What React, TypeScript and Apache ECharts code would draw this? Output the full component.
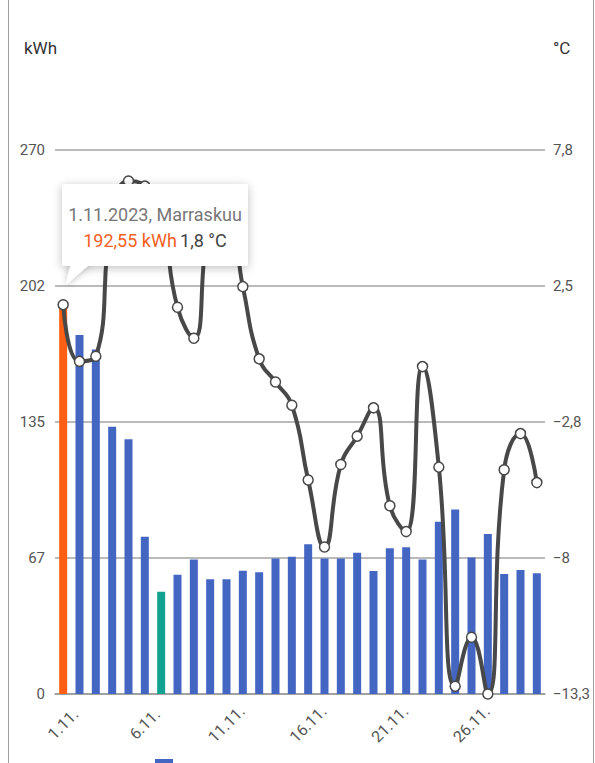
import React, { useEffect, useRef } from "react";
import * as echarts from "echarts";

// November 2023 daily energy use and mean outdoor temperature
const days: string[] = Array.from({ length: 30 }, (_, i) => `${i + 1}.11.`);
const energyKwh: number[] = [
  192.55, 178.2, 171.0, 132.7, 126.4, 78.1, 50.8, 59.2, 66.8, 56.9,
  56.9, 61.2, 60.4, 67.3, 68.1, 74.3, 67.3, 67.3, 70.1, 61.0,
  72.3, 72.8, 66.8, 85.5, 91.6, 67.8, 79.4, 59.5, 61.5, 59.9,
];
const temperatureC: number[] = [
  1.8, -0.4, -0.2, 5.3, 6.6, 6.4, 5.2, 1.7, 0.5, 5.0,
  5.6, 2.5, -0.3, -1.2, -2.1, -5.0, -7.6, -4.4, -3.3, -2.2,
  -6.0, -7.0, -0.6, -4.5, -13.0, -11.1, -13.3, -4.6, -3.2, -5.1,
];
const kwhAxisRange: number[] = [0, 270];
const tempAxisRange: number[] = [-13.3, 7.8];
const selectedDay = 0;
const selectedDateLabel = "1.11.2023, Marraskuu";

const fmtDecimal = (v: number, digits: number) =>
  v.toFixed(digits).replace(".", ",").replace("-", "\u2212");

const fmtTempTick = (v: number) => {
  const r = Math.round((Math.abs(v) + 1e-9) * 10) / 10;
  const s = (r % 1 === 0 ? String(r) : r.toFixed(1)).replace(".", ",");
  return (v < 0 && r !== 0 ? "\u2212" : "") + s;
};

export default function App() {
  const ref = useRef<HTMLDivElement>(null);

  useEffect(() => {
    document.body.style.margin = "0";
    if (!ref.current) return;
    const chart = echarts.init(ref.current, undefined, { renderer: "svg" });

    const minIdx = energyKwh.indexOf(Math.min(...energyKwh));
    const barData = energyKwh.map((v, i) => ({
      value: v,
      itemStyle: {
        color: i === selectedDay ? "#ff5f12" : i === minIdx ? "#12a390" : "#4466c3",
      },
    }));

    const font = "Roboto, 'Noto Sans', sans-serif";
    const TIP_Z = 100;

    chart.setOption({
      animation: false,
      textStyle: { fontFamily: font },
      grid: { left: 55, right: 50, top: 150, bottom: 69 },
      xAxis: {
        type: "category",
        data: days,
        axisLine: { lineStyle: { color: "#9a9a9a", width: 1.5 } },
        axisTick: { show: false },
        axisLabel: {
          interval: 4,
          rotate: 45,
          align: "center",
          verticalAlign: "middle",
          margin: 30,
          color: "#555",
          fontSize: 16,
          fontFamily: font,
        },
      },
      yAxis: [
        {
          type: "value",
          min: kwhAxisRange[0],
          max: kwhAxisRange[1],
          interval: 67.5,
          name: "kWh",
          nameLocation: "end",
          nameGap: 94,
          nameTextStyle: { align: "right", color: "#333", fontSize: 17, fontFamily: font, padding: [0, -2, 0, 0] },
          axisLine: { show: false },
          axisTick: { show: false },
          splitLine: { lineStyle: { color: "#a3a3a3", width: 1.5 } },
          axisLabel: {
            color: "#555",
            fontSize: 15,
            margin: 10,
            fontFamily: font,
            formatter: (v: number) => String(Math.floor(v)),
          },
        },
        {
          type: "value",
          min: tempAxisRange[0],
          max: tempAxisRange[1],
          alignTicks: true,
          name: "°C",
          nameLocation: "end",
          nameGap: 94,
          nameTextStyle: { align: "left", color: "#333", fontSize: 17, fontFamily: font, padding: [0, 0, 0, 8] },
          axisLine: { show: false },
          axisTick: { show: false },
          splitLine: { show: false },
          axisLabel: {
            color: "#555",
            fontSize: 15,
            margin: 8,
            fontFamily: font,
            formatter: (v: number) => fmtTempTick(v),
          },
        },
      ],
      series: [
        {
          type: "bar",
          yAxisIndex: 0,
          data: barData,
          barWidth: 8,
        },
        {
          type: "line",
          yAxisIndex: 1,
          data: temperatureC,
          smooth: 0.5,
          symbol: "circle",
          symbolSize: 10,
          z: 3,
          lineStyle: { color: "#484848", width: 4 },
          itemStyle: { color: "#ffffff", borderColor: "#484848", borderWidth: 1.5 },
        },
      ],
      graphic: {
        elements: [
          // card edges
          { type: "line", shape: { x1: 8.5, y1: 0, x2: 8.5, y2: 763 }, style: { stroke: "#a0a0a0", lineWidth: 1 } },
          { type: "line", shape: { x1: 593.5, y1: 0, x2: 593.5, y2: 763 }, style: { stroke: "#a0a0a0", lineWidth: 1 } },
          // legend swatch peeking at the bottom
          { type: "rect", shape: { x: 155, y: 759, width: 18, height: 8 }, style: { fill: "#4466c3" } },
          // pinned tooltip for the selected day
          {
            type: "polygon",
            z: TIP_Z,
            zlevel: 1,
            shape: { points: [[66, 285], [70, 262], [92, 262]] },
            style: { fill: "#ffffff", shadowBlur: 6, shadowColor: "rgba(0,0,0,0.25)", shadowOffsetY: 1 },
          },
          {
            type: "rect",
            z: TIP_Z + 1,
            zlevel: 1,
            shape: { x: 62, y: 184, width: 186, height: 82, r: 2 },
            style: { fill: "#ffffff", shadowBlur: 10, shadowColor: "rgba(0,0,0,0.25)", shadowOffsetY: 2 },
          },
          {
            type: "polygon",
            z: TIP_Z + 2,
            zlevel: 1,
            shape: { points: [[67, 283], [71, 264], [91, 264]] },
            style: { fill: "#ffffff" },
          },
          {
            type: "text",
            z: TIP_Z + 3,
            zlevel: 1,
            x: 155,
            y: 214,
            style: {
              text: selectedDateLabel,
              fill: "#777",
              font: `18px ${font}`,
              align: "center",
              verticalAlign: "middle",
            },
          },
          {
            type: "text",
            z: TIP_Z + 3,
            zlevel: 1,
            x: 155,
            y: 240,
            style: {
              text: `{a|${fmtDecimal(energyKwh[selectedDay], 2)} kWh} {b|${fmtDecimal(temperatureC[selectedDay], 1)} °C}`,
              align: "center",
              verticalAlign: "middle",
              rich: {
                a: { fill: "#f4611e", fontSize: 18, fontFamily: font },
                b: { fill: "#444", fontSize: 18, fontFamily: font },
              },
            },
          },
        ],
      },
    });

    return () => chart.dispose();
  }, []);

  return (
    <div
      ref={ref}
      style={{ position: "absolute", left: 0, top: 0, width: 595, height: 763, background: "#fff" }}
    />
  );
}
